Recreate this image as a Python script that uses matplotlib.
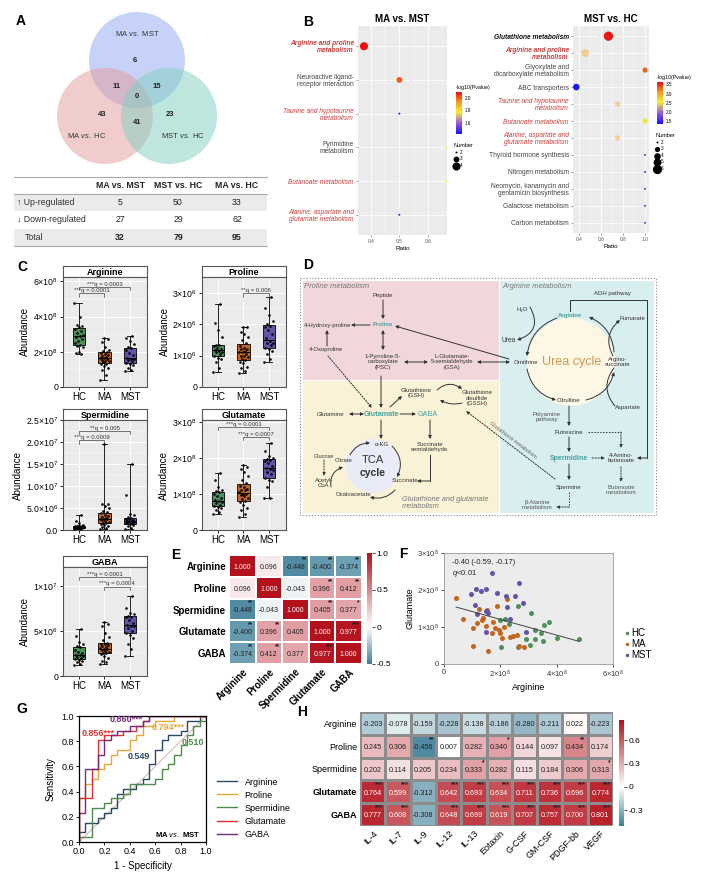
import numpy as np
import matplotlib
matplotlib.use("Agg")
import matplotlib.pyplot as plt
from matplotlib.colors import LinearSegmentedColormap, Normalize
from matplotlib.cm import ScalarMappable
from matplotlib.patches import Circle, FancyArrowPatch, Rectangle
from matplotlib.lines import Line2D
from matplotlib.ticker import AutoMinorLocator

plt.rcParams.update({
    "font.family": ["Liberation Sans", "DejaVu Sans"],
    "mathtext.fontset": "custom",
    "mathtext.rm": "Liberation Sans",
    "mathtext.it": "Liberation Sans:italic",
    "mathtext.bf": "Liberation Sans:bold",
    "axes.linewidth": 0.6,
    "xtick.major.width": 0.6, "ytick.major.width": 0.6,
    "xtick.major.size": 2, "ytick.major.size": 2,
    "xtick.major.pad": 1.5, "ytick.major.pad": 1.5,
})

W, H = 702, 885

# ---------------- data ----------------
# A: venn + table
venn_names = ["MA vs. MST", "MA vs. HC", "MST vs. HC"]
venn_counts = [6, 11, 15, 0, 43, 41, 23]
tbl_cols = ["MA vs. MST", "MST vs. HC", "MA vs. HC"]
tbl_rows = ["↑ Up-regulated", "↓ Down-regulated", "Total"]
tbl_up = [5, 50, 33]
tbl_down = [27, 29, 62]
tbl_total = [32, 79, 95]

# B: KEGG enrichment
b1_paths = ["Arginine and proline\nmetabolism", "Neuroactive ligand-\nreceptor interaction",
            "Taurine and hypotaurine\nmetabolism", "Pyrimidine\nmetabolism",
            "Butanoate metabolism", "Alanine, aspartate and\nglutamate metabolism"]
b1_ratio = [0.375, 0.5, 0.5, 0.667, 0.667, 0.5]
b1_logp = [2.09, 2.0, 1.43, 1.78, 1.8, 1.43]
b1_number = [4, 3, 2, 2, 2, 2]

b2_paths = ["Glutathione metabolism", "Arginine and proline\nmetabolism",
            "Glyoxylate and\ndicarboxylate metabolism", "ABC transporters",
            "Taurine and hypotaurine\nmetabolism", "Butanoate metabolism",
            "Alanine, aspartate and\nglutamate metabolism", "Thyroid hormone synthesis",
            "Nitrogen metabolism", "Neomycin, kanamycin and\ngentamicin biosynthesis",
            "Galactose metabolism", "Carbon metabolism"]
b2_ratio = [0.667, 0.455, 1.0, 0.375, 0.75, 1.0, 0.75, 1.0, 1.0, 1.0, 1.0, 1.0]
b2_logp = [3.6, 3.0, 3.3, 1.36, 3.0, 2.5, 3.0, 1.6, 1.6, 1.6, 1.6, 1.6]
b2_number = [6, 5, 3, 4, 3, 3, 3, 2, 2, 2, 2, 2]

# C: abundances (Arginine/Glutamate x1e8, others x1e6)
arg_hc = [4.75, 3.95, 3.5, 3.45, 3.4, 3.3, 3.2, 3.05, 2.95, 2.9, 2.85, 2.75, 2.6, 2.5, 2.4, 2.35, 2.25, 2.0, 1.95, 1.9]
arg_ma = [0.4, 0.7, 0.95, 1.1, 1.2, 1.3, 1.32, 1.4, 1.45, 1.5, 1.55, 1.6, 1.65, 1.65, 1.7, 1.75, 1.8, 1.85, 1.95, 2.0, 2.05, 2.1, 2.3, 2.55, 2.7, 2.8]
arg_mst = [0.9, 0.95, 1.1, 1.25, 1.3, 1.35, 1.45, 1.55, 1.6, 1.6, 1.65, 1.8, 1.95, 2.1, 2.2, 2.3, 2.45, 2.6, 2.8, 2.9]
pro_hc = [0.48, 0.6, 0.8, 0.9, 0.92, 1.0, 1.05, 1.1, 1.12, 1.15, 1.18, 1.2, 1.25, 1.3, 1.35, 1.35, 1.6, 1.8, 2.05, 2.65]
pro_ma = [0.45, 0.5, 0.6, 0.65, 0.75, 0.8, 0.85, 0.9, 0.95, 1.0, 1.0, 1.05, 1.1, 1.1, 1.15, 1.2, 1.2, 1.25, 1.3, 1.4, 1.5, 1.6, 1.7, 1.75, 1.9, 1.92]
pro_mst = [0.8, 0.9, 1.05, 1.15, 1.2, 1.25, 1.35, 1.4, 1.4, 1.45, 1.55, 1.7, 1.8, 1.9, 1.95, 2.0, 2.1, 2.3, 2.5, 2.85]
spd_hc = [0.2, 0.3, 0.4, 0.5, 0.5, 0.55, 0.6, 0.65, 0.7, 0.7, 0.75, 0.8, 0.85, 0.9, 0.9, 1.0, 1.1, 1.5, 2.0, 3.3]
spd_ma = [0.2, 0.4, 0.6, 0.9, 1.2, 1.4, 1.5, 1.7, 1.9, 2.1, 2.3, 2.4, 2.5, 2.6, 2.8, 3.0, 3.2, 3.5, 3.8, 4.0, 4.3, 5.0, 5.5, 5.8, 6.0, 19.5]
spd_mst = [0.2, 0.5, 0.8, 1.2, 1.4, 1.5, 1.7, 1.8, 1.9, 2.0, 2.0, 2.2, 2.4, 2.6, 2.8, 2.9, 3.5, 3.7, 8.0, 15.0]
glu_hc = [0.45, 0.5, 0.55, 0.62, 0.65, 0.67, 0.7, 0.75, 0.78, 0.8, 0.82, 0.9, 0.95, 1.0, 1.05, 1.08, 1.1, 1.2, 1.4, 1.58]
glu_ma = [0.37, 0.45, 0.55, 0.6, 0.7, 0.78, 0.8, 0.85, 0.9, 0.95, 0.97, 1.0, 1.0, 1.05, 1.1, 1.12, 1.15, 1.2, 1.22, 1.3, 1.4, 1.5, 1.6, 1.7, 1.75, 1.8]
glu_mst = [0.88, 0.9, 1.2, 1.35, 1.4, 1.45, 1.55, 1.6, 1.65, 1.7, 1.72, 1.78, 1.85, 1.9, 1.95, 1.97, 2.0, 2.05, 2.2, 2.42]
gaba_hc = [1.2, 1.3, 1.5, 1.7, 1.8, 1.9, 2.0, 2.1, 2.2, 2.3, 2.3, 2.5, 2.7, 2.9, 3.2, 3.3, 3.5, 3.8, 4.4, 5.2]
gaba_ma = [1.3, 1.5, 1.7, 2.0, 2.2, 2.4, 2.5, 2.6, 2.7, 2.8, 2.9, 3.0, 3.0, 3.1, 3.2, 3.3, 3.4, 3.5, 3.6, 3.7, 4.0, 4.3, 4.8, 5.5, 5.8, 6.0]
gaba_mst = [2.2, 3.0, 3.5, 4.2, 4.6, 4.8, 5.0, 5.3, 5.5, 5.6, 5.7, 5.9, 6.2, 6.5, 6.6, 6.7, 6.9, 7.0, 7.5, 8.9]

# E: correlation between metabolites
e_names = ["Arginine", "Proline", "Spermidine", "Glutamate", "GABA"]
e_corr = [[1.000, 0.096, -0.448, -0.400, -0.374],
          [0.096, 1.000, -0.043, 0.396, 0.412],
          [-0.448, -0.043, 1.000, 0.405, 0.377],
          [-0.400, 0.396, 0.405, 1.000, 0.977],
          [-0.374, 0.412, 0.377, 0.977, 1.000]]
e_sig = [["", "", "**", "**", "**"],
         ["", "", "", "**", "**"],
         ["**", "", "", "**", "*"],
         ["**", "**", "", "", "***"],
         ["**", "**", "", "***", ""]]

# F: arginine vs glutamate (x1e8)
f_hc_arg = [1.99, 2.02, 2.17, 2.32, 2.64, 2.64, 3.08, 2.91, 3.05, 3.24, 3.24, 3.44, 3.53, 3.55, 3.74, 4.00, 4.78]
f_hc_glu = [1.19, 0.45, 1.21, 1.08, 1.57, 0.47, 1.37, 0.67, 0.51, 0.92, 0.67, 0.85, 0.63, 1.05, 1.14, 0.69, 0.67]
f_ma_arg = [0.43, 0.69, 1.04, 1.04, 1.16, 1.25, 1.34, 1.39, 1.48, 1.55, 1.52, 1.75, 1.81, 1.87, 1.94, 1.99, 2.06, 2.13, 2.22, 2.36, 2.46, 2.60, 1.69, 2.67, 2.84]
f_ma_glu = [1.79, 1.21, 0.96, 0.49, 1.12, 1.48, 1.19, 1.24, 1.03, 0.36, 1.46, 1.14, 0.96, 1.57, 0.92, 0.83, 0.69, 1.01, 1.75, 0.74, 0.76, 0.78, 0.85, 0.49, 0.47]
f_mst_arg = [0.96, 1.14, 1.30, 1.10, 1.16, 1.49, 1.48, 1.55, 1.72, 1.48, 1.87, 2.20, 2.25, 2.34, 2.52, 2.67, 2.82, 2.91]
f_mst_glu = [1.89, 2.02, 1.98, 1.59, 1.35, 2.04, 1.44, 1.39, 2.45, 0.87, 1.93, 1.84, 1.53, 1.21, 1.84, 2.18, 1.66, 0.87]

# G: ROC curves (step points)
roc_names = ["Arginine", "Proline", "Spermidine", "Glutamate", "GABA"]
roc_fpr = [[0, 0, 0.05, 0.15, 0.2, 0.25, 0.3, 0.35, 0.45, 0.5, 0.55, 0.6, 0.65, 0.7, 0.8, 0.85, 0.95, 1],
           [0, 0, 0.05, 0.1, 0.15, 0.2, 0.25, 0.3, 0.4, 0.45, 0.5, 0.6, 0.75, 1],
           [0, 0, 0.1, 0.2, 0.25, 0.35, 0.4, 0.6, 0.65, 0.7, 0.75, 0.8, 0.85, 0.9, 0.95, 1, 1],
           [0, 0, 0.1, 0.15, 0.2, 0.35, 0.45, 0.5, 0.55, 1],
           [0, 0, 0.05, 0.15, 0.2, 0.25, 0.3, 0.4, 0.5, 0.55, 1]]
roc_tpr = [[0, 0.08, 0.15, 0.19, 0.23, 0.27, 0.38, 0.42, 0.46, 0.5, 0.62, 0.73, 0.81, 0.85, 0.88, 0.96, 1, 1],
           [0, 0.35, 0.46, 0.5, 0.58, 0.62, 0.69, 0.73, 0.81, 0.85, 0.92, 0.96, 1, 1],
           [0, 0.04, 0.27, 0.31, 0.35, 0.38, 0.46, 0.5, 0.58, 0.62, 0.69, 0.77, 0.85, 0.92, 0.96, 0.96, 1],
           [0, 0.35, 0.58, 0.81, 0.85, 0.88, 0.92, 0.96, 1, 1],
           [0, 0.23, 0.58, 0.69, 0.81, 0.85, 0.88, 0.92, 0.96, 1, 1]]
roc_auc = ["0.549", "0.794***", "0.510", "0.856***", "0.860***"]

# H: metabolites vs cytokines
h_rows = ["Arginine", "Proline", "Spermidine", "Glutamate", "GABA"]
h_cols = ["IL-4", "IL-7", "IL-9", "IL-12", "IL-13", "Eotaxin", "G-CSF", "GM-CSF", "PDGF-bb", "VEGF"]
h_corr = [[-0.203, -0.078, -0.159, -0.228, -0.138, -0.186, -0.280, -0.211, 0.022, -0.223],
          [0.245, 0.306, -0.456, 0.007, 0.282, 0.340, 0.144, 0.097, 0.434, 0.174],
          [0.202, 0.114, 0.205, 0.234, 0.333, 0.282, 0.115, 0.184, 0.306, 0.313],
          [0.764, 0.599, -0.312, 0.642, 0.693, 0.634, 0.711, 0.736, 0.696, 0.774],
          [0.777, 0.608, -0.308, 0.648, 0.699, 0.619, 0.707, 0.757, 0.700, 0.801]]
h_sig = [[""] * 10,
         ["", "", "**", "", "", "*", "", "", "**", ""],
         ["", "", "", "", "*", "", "", "", "", "*"],
         ["***", "***", "", "***", "***", "***", "***", "***", "***", "***"],
         ["***", "***", "", "***", "***", "***", "***", "***", "***", "***"]]

# ---------------- helpers ----------------
fig = plt.figure(figsize=(W / 100, H / 100), dpi=100)


def px_axes(x0, y0, x1, y1):
    return fig.add_axes([x0 / W, 1 - y1 / H, (x1 - x0) / W, (y1 - y0) / H])


ov = px_axes(0, 0, W, H)
ov.set_xlim(0, W)
ov.set_ylim(H, 0)
ov.axis("off")

DARK = "#333333"
TEAL = "#49a39c"
RED_T = "#c8413c"


def t(x, y, s, **kw):
    kw.setdefault("fontsize", 4.3)
    kw.setdefault("ha", "center")
    kw.setdefault("va", "center")
    kw.setdefault("color", DARK)
    ov.text(x, y, s, **kw)


def arrow(p0, p1, both=False, ls="-", rad=0.0, head=True):
    style = "<|-|>" if both else ("-|>" if head else "-")
    ov.add_patch(FancyArrowPatch(p0, p1, arrowstyle=style, mutation_scale=4.5, lw=0.7,
                                 color=DARK, linestyle=ls, shrinkA=0, shrinkB=0,
                                 connectionstyle=f"arc3,rad={rad}"))


def line(xs, ys, ls="-"):
    ov.plot(xs, ys, color=DARK, lw=0.7, ls=ls)


for lab, (x, y) in zip("ABCDEFGH", [(21, 21), (308, 22), (22, 267), (308, 265),
                                    (176, 555), (403, 554), (22, 709), (302, 712)]):
    ov.text(x, y, lab, fontsize=10, fontweight="bold", ha="center", va="center")

# ---------------- A: venn ----------------
for (cx, cy), col in zip([(137, 60), (105, 116), (169, 116)], ["#8ea6f0", "#e49a9a", "#7fcfc0"]):
    ov.add_patch(Circle((cx, cy), 48, facecolor=col, alpha=0.5, edgecolor="none"))
for name, (x, y) in zip(venn_names, [(137, 34), (87, 136), (183, 136)]):
    a, b = name.split(" vs. ")
    t(x, y, f"{a} $\\mathit{{vs.}}$ {b}", fontsize=5.5, color="#333")
for n, (x, y) in zip(venn_counts, [(135, 60), (117, 86), (157, 86), (137, 97), (102, 115), (137, 123), (170, 115)]):
    t(x, y, str(n), fontsize=5.5, fontweight="bold", color="#222")

# table
ov.add_patch(Rectangle((14, 194), 253, 17, facecolor="#ebebeb", edgecolor="none"))
ov.add_patch(Rectangle((14, 229), 253, 17, facecolor="#ebebeb", edgecolor="none"))
for y in (177, 194, 246):
    ov.plot([14, 267], [y, y], color="#aaaaaa", lw=0.8)
col_x = [120, 178, 237]
for x, c in zip(col_x, tbl_cols):
    t(x, 185, c, fontsize=6.3, fontweight="bold", color="#222")
for y, rname, vals in zip([202.5, 219.5, 237.5], tbl_rows, [tbl_up, tbl_down, tbl_total]):
    bold = rname == "Total"
    t(17 if not bold else 25, y, rname, fontsize=6.3, ha="left", color="#333")
    for x, v in zip(col_x, vals):
        t(x, y, str(v), fontsize=6.3, fontweight="bold" if bold else "normal", color="#222")

# ---------------- B: enrichment dot plots ----------------
b_cmap = LinearSegmentedColormap.from_list(
    "kegg", [(0, "#1414ff"), (0.28, "#a060d0"), (0.52, "#f6f02a"), (0.76, "#f59a20"), (1, "#e61010")])
red_labels = {"Arginine and proline\nmetabolism", "Taurine and hypotaurine\nmetabolism",
              "Butanoate metabolism", "Alanine, aspartate and\nglutamate metabolism"}
bold_labels = {"Arginine and proline\nmetabolism", "Glutathione metabolism"}


def dotplot(box, paths, ratio, logp, number, xlim, xticks, minor, vlim, cbox, cticks,
            lbox, sizes, title, faded=()):
    ax = px_axes(*box)
    ax.set_facecolor("#ebebeb")
    n = len(paths)
    ypos = np.arange(n)
    norm = Normalize(*vlim)
    s = [sizes[k] for k in number]
    alphas = [0.45 if i in faded else 1.0 for i in range(n)]
    sc = ax.scatter(ratio, ypos, s=s, c=logp, cmap=b_cmap, norm=norm, alpha=alphas, lw=0, zorder=3)
    ax.set_xlim(*xlim)
    ax.set_ylim(n - 1 + 0.6, -0.6)
    ax.set_xticks(xticks)
    ax.set_xticks(minor, minor=True)
    ax.set_yticks(ypos)
    ax.set_yticklabels(paths, fontsize=4.8, linespacing=1.0)
    for lbl, p in zip(ax.get_yticklabels(), paths):
        lbl.set_color(RED_T if p in red_labels else "#444444")
        if p in red_labels or p == "Glutathione metabolism":
            lbl.set_style("italic")
        if p in bold_labels:
            lbl.set_fontweight("bold")
        if p == "Glutathione metabolism":
            lbl.set_color("#111111")
    ax.tick_params(axis="x", labelsize=3.5, length=1.5, colors="#555555", width=0.4)
    ax.tick_params(axis="y", length=1.5, width=0.4, colors="#555555")
    ax.tick_params(axis="x", which="minor", length=0)
    for lbl, p in zip(ax.get_yticklabels(), paths):
        lbl.set_color(RED_T if p in red_labels else ("#111111" if p == "Glutathione metabolism" else "#444444"))
    ax.grid(which="major", color="white", lw=0.6)
    ax.grid(which="minor", axis="x", color="white", lw=0.3)
    ax.set_axisbelow(True)
    for sp in ax.spines.values():
        sp.set_visible(False)
    ax.set_xlabel("Ratio", fontsize=4.5, labelpad=1)
    ax.set_title(title, fontsize=7, fontweight="bold", pad=3)
    cax = px_axes(*cbox)
    cb = fig.colorbar(ScalarMappable(norm, b_cmap), cax=cax)
    cb.set_ticks(cticks)
    cb.ax.tick_params(labelsize=3.3, length=1, width=0.3, pad=1)
    cb.outline.set_visible(False)
    cax.set_title("-log10(Pvalue)", fontsize=3.8, pad=2, loc="left")
    hs = [plt.scatter([], [], s=sizes[k], c="black", lw=0) for k in sorted(sizes)]
    fig.legend(hs, [str(k) for k in sorted(sizes)], title="Number", loc="upper left",
               bbox_to_anchor=(lbox[0] / W, 1 - lbox[1] / H), frameon=False, fontsize=3.3,
               title_fontsize=4, alignment="left", handletextpad=0.2, labelspacing=0.35,
               borderpad=0, borderaxespad=0, handlelength=1)


dotplot((358, 26, 447, 235), b1_paths, b1_ratio, b1_logp, b1_number, (0.354, 0.668),
        [0.4, 0.5, 0.6], [0.45, 0.55, 0.65], (1.42, 2.09), (456, 92, 462, 134),
        [1.6, 1.8, 2.0], (454, 143), {2: 2, 3: 18, 4: 34}, "MA vs. MST")
dotplot((573, 26, 649, 233), b2_paths, b2_ratio, b2_logp, b2_number, (0.345, 1.036),
        [0.4, 0.6, 0.8, 1.0], [0.5, 0.7, 0.9], (1.34, 3.63), (657, 82, 663, 124),
        [1.5, 2.0, 2.5, 3.0, 3.5], (655, 133), {2: 2, 3: 14, 4: 22, 5: 32, 6: 44},
        "MST vs. HC", faded=(1, 4, 6))

# ---------------- C: boxplots ----------------
GCOL = ["#4f8f5e", "#c5661f", "#6553a8"]


def sci(m, e):
    return f"${m}{{\\times}}10^{{{e}}}$"


def boxpanel(box, name, groups, scale, ylim, ticks, ticklabels, comps):
    x0, y0, x1, y1 = box
    st = px_axes(x0, y0 - 11, x1, y0)
    st.set_xticks([]); st.set_yticks([])
    for sp in st.spines.values():
        sp.set_color("#555555"); sp.set_linewidth(0.8)
    st.text(0.5, 0.45, name, ha="center", va="center", fontsize=6.5, fontweight="bold",
            transform=st.transAxes)
    ax = px_axes(*box)
    vals = [np.asarray(g) * scale for g in groups]
    bp = ax.boxplot(vals, positions=[1, 2, 3], widths=0.5, whis=(0, 100), patch_artist=True,
                    showfliers=False, capwidths=0.22,
                    medianprops=dict(color="black", lw=0.7), whiskerprops=dict(lw=0.6),
                    capprops=dict(lw=0.6), boxprops=dict(lw=0.6))
    for patch, c in zip(bp["boxes"], GCOL):
        patch.set_facecolor(c)
    for k, v in enumerate(vals):
        jit = ((np.arange(len(v)) * 0.618) % 1 - 0.5) * 0.36
        ax.scatter(k + 1 + jit, v, s=3.5, c="black", zorder=3, lw=0)
    ax.set_facecolor("#ebebeb")
    ax.set_xlim(0.37, 3.67)
    ax.set_ylim(*ylim)
    ax.set_yticks(ticks)
    ax.set_yticklabels(ticklabels)
    ax.yaxis.set_minor_locator(AutoMinorLocator(2))
    ax.set_xticks([1, 2, 3])
    ax.set_xticklabels(["HC", "MA", "MST"])
    ax.tick_params(labelsize=7, length=2)
    ax.tick_params(axis="y", labelsize=6.3)
    ax.tick_params(which="minor", length=0)
    ax.grid(which="major", color="white", lw=0.7)
    ax.grid(which="minor", axis="y", color="white", lw=0.35)
    ax.set_axisbelow(True)
    for sp in ax.spines.values():
        sp.set_color("#555555"); sp.set_linewidth(0.8)
    ax.set_ylabel("Abundance", fontsize=7, labelpad=2)
    rng = ylim[1] - ylim[0]
    for i, j, y, lab in comps:
        yy = y * scale
        ax.plot([i, i, j, j], [yy - 0.03 * rng, yy, yy, yy - 0.03 * rng], color="#444444", lw=0.5)
        ax.text((i + j) / 2, yy + 0.003 * rng, lab, ha="center", va="bottom", fontsize=4.3, color="#333")


boxpanel((63, 277, 147, 387), "Arginine", [arg_hc, arg_ma, arg_mst], 1e8, (0, 6.25e8),
         [0, 2e8, 4e8, 6e8], ["0", sci(2, 8), sci(4, 8), sci(6, 8)],
         [(1, 3, 5.68, "***q = 0.0003"), (1, 2, 5.32, "***q = 0.0001")])
boxpanel((202, 277, 286, 387), "Proline", [pro_hc, pro_ma, pro_mst], 1e6, (0, 3.5e6),
         [0, 1e6, 2e6, 3e6], ["0", sci(1, 6), sci(2, 6), sci(3, 6)],
         [(2, 3, 2.98, "**q = 0.006")])
boxpanel((63, 420, 147, 530), "Spermidine", [spd_hc, spd_ma, spd_mst], 1e6, (0, 2.5e7),
         [0, 5e6, 1e7, 1.5e7, 2e7, 2.5e7],
         ["0.0", sci("5.0", 6), sci("1.0", 7), sci("1.5", 7), sci("2.0", 7), sci("2.5", 7)],
         [(1, 3, 22.5, "**q = 0.005"), (1, 2, 20.4, "***q = 0.0009")])
boxpanel((202, 420, 286, 530), "Glutamate", [glu_hc, glu_ma, glu_mst], 1e8, (0, 3.05e8),
         [0, 1e8, 2e8, 3e8], ["0", sci(1, 8), sci(2, 8), sci(3, 8)],
         [(1, 3, 2.86, "***q = 0.0001"), (2, 3, 2.58, "***q = 0.0007")])
boxpanel((63, 567, 147, 676), "GABA", [gaba_hc, gaba_ma, gaba_mst], 1e6, (0, 1.21e7),
         [0, 5e6, 1e7], ["0", sci(5, 6), sci(1, 7)],
         [(1, 3, 11.0, "***q = 0.0001"), (2, 3, 9.9, "***q = 0.0004")])

# ---------------- D: pathway diagram ----------------
ov.add_patch(Rectangle((303, 281), 196, 99, facecolor="#f2d7da", edgecolor="none"))
ov.add_patch(Rectangle((303, 381), 196, 132, facecolor="#f9f2d6", edgecolor="none"))
ov.add_patch(Rectangle((500, 281), 154, 232, facecolor="#d9eeee", edgecolor="none"))
ov.add_patch(Rectangle((300, 278), 356, 237, facecolor="none", edgecolor="#888888", lw=0.8, ls=":"))
ov.add_patch(Circle((571, 362), 44, facecolor="#fdf7e6", edgecolor="none"))
ov.add_patch(Circle((373, 466), 27, facecolor="#e9ebf7", edgecolor="none"))

t(304, 287, "Proline metabolism", fontsize=5.5, style="italic", color="#777777", ha="left")
t(502, 287, "Arginine metabolism", fontsize=5.5, style="italic", color="#777777", ha="left")
t(402, 503, "Glutathione and glutamate\nmetabolism", fontsize=5.3, style="italic",
  color="#777777", ha="left", linespacing=1.0)
t(612, 294, "ADH pathway")
t(383, 295, "Peptide")
t(383, 325, "Proline", color=TEAL, fontweight="bold")
t(328, 325, "4-Hydroxy-proline")
t(326, 350, "4-Oxoproline")
t(383, 362, "1-Pyrroline-5-\ncarboxylate\n(PSC)", linespacing=1.05)
t(452, 362, "L-Glutamate-\n5-semialdehyde\n(GSA)", linespacing=1.05)
t(526, 362, "Ornithine")
t(522, 309, "H₂O")
t(509, 340, "Urea", fontsize=4.8)
t(570, 316, "Arginine", color=TEAL, fontweight="bold")
t(632, 319, "Fumarate")
t(618, 362, "Argino-\nsuccinate", linespacing=1.05)
t(572, 362, "Urea cycle", fontsize=9, color="#c99a4e")
t(569, 401, "Citrulline")
t(628, 407, "Aspartate")
t(547, 417, "Polyamine\npathway", color="#555555", linespacing=1.05)
t(569, 432, "Putrescine")
t(569, 458, "Spermidine", color=TEAL, fontsize=5, fontweight="bold")
t(621, 458, "4-Amino-\nbutanoate", linespacing=1.05)
t(569, 487, "Spermine")
t(621, 490, "Butanoate\nmetabolism", color="#555555", linespacing=1.05)
t(537, 505, "β-Alanine\nmetabolism", color="#555555", linespacing=1.05)
t(513, 440, "Glutathione metabolism", rotation=-37, color="#666666", fontsize=4)
t(416, 393, "Glutathione\n(GSH)", linespacing=1.05)
t(477, 398, "Glutathione\ndisulfide\n(GSSH)", linespacing=1.05)
t(331, 414, "Glutamine")
t(382, 414, "Glutamate", color=TEAL, fontsize=5.2, fontweight="bold")
t(428, 415, "GABA", color=TEAL, fontsize=5.2)
t(430, 447, "Succinate\nsemialdehyde", linespacing=1.05)
t(382, 444, "α-KG")
t(344, 461, "Citrate")
t(405, 481, "Succinate")
t(354, 495, "Oxaloacetate")
t(324, 456, "Glucose", fontsize=4)
t(324, 483, "Acetyl-\nCoA", linespacing=1.05)
t(373, 460, "TCA", fontsize=8)
t(373, 473, "cycle", fontsize=7.5, fontweight="bold")

arrow((383, 300), (383, 319))
arrow((370, 325), (351, 325))
arrow((327, 346), (327, 330))
arrow((509, 359), (395, 326))
arrow((383, 330), (383, 350), both=True)
arrow((404, 362), (428, 362), both=True)
arrow((477, 362), (510, 362), both=True)
arrow((381, 376), (381, 408))
arrow((390, 407), (402, 396))
arrow((349, 414), (364, 414), both=True)
arrow((400, 414), (416, 414))
arrow((381, 420), (381, 439))
arrow((430, 420), (430, 439))
line([430, 430], [455, 481])
arrow((430, 481), (417, 481))
arrow((569, 406), (569, 426))
arrow((569, 437), (569, 452))
arrow((569, 464), (569, 480))
# urea cycle arcs
arrow((557, 318), (527, 356), rad=0.3)
arrow((527, 369), (556, 400), rad=0.3)
arrow((586, 400), (614, 372), rad=0.3)
arrow((614, 352), (589, 317), rad=0.3)
arrow((530, 307), (517, 340), rad=-0.6)
arrow((613, 356), (620, 320), rad=-0.4)
arrow((614, 368), (615, 406), rad=0.4, head=False)
# ADH pathway
line([570, 570, 647, 647], [311, 300, 300, 458])
arrow((647, 458), (637, 458))
# TCA arcs
arrow((350, 455), (370, 443), rad=-0.3)
arrow((392, 446), (397, 477), rad=-0.35)
arrow((395, 490), (370, 497), rad=-0.3)
arrow((331, 487), (343, 467), rad=-0.4)
# glutathione
arrow((437, 390), (462, 389), rad=-0.4)
arrow((462, 403), (440, 400), rad=-0.2)
# dotted
arrow((328, 356), (372, 408), ls=(0, (1.5, 1.5)))
arrow((555, 479), (466, 411), ls=(0, (1.5, 1.5)))
line([588, 621], [432, 432], ls=(0, (1.5, 1.5)))
arrow((621, 432), (621, 448), ls=(0, (1.5, 1.5)))
arrow((592, 458), (605, 458), ls=(0, (1.5, 1.5)))
arrow((621, 467), (621, 482), ls=(0, (1.5, 1.5)))
line([569, 569], [492, 507], ls=(0, (1.5, 1.5)))
arrow((569, 507), (556, 507), ls=(0, (1.5, 1.5)))
arrow((324, 460), (324, 476), ls=(0, (1.5, 1.5)))

# ---------------- E / H: heatmaps ----------------
TEAL_B = "#3f7f99"
RED_B = "#b3111c"


def heat(box, M, names_r, names_c, vmin, vmax, sig, thr, edge, lw, fs, lab_fs, bold_rows, cbox, cticks, clabels):
    M = np.asarray(M)
    zero = -vmin / (vmax - vmin)
    cmap = LinearSegmentedColormap.from_list("div", [(0, TEAL_B), (zero, "#ffffff"), (1, RED_B)])
    norm = Normalize(vmin, vmax)
    ax = px_axes(*box)
    nr, nc = M.shape
    ax.pcolormesh(np.arange(nc + 1), np.arange(nr + 1), M, cmap=cmap, norm=norm,
                  edgecolors=edge, linewidth=lw)
    ax.set_xlim(0, nc)
    ax.set_ylim(nr, 0)
    for i in range(nr):
        for j in range(nc):
            v = M[i, j]
            ax.text(j + 0.5, i + 0.56, f"{v:.3f}", ha="center", va="center", fontsize=fs,
                    color="white" if v > thr else "#222222")
            if sig[i][j]:
                ax.text(j + 0.92, i + 0.05, sig[i][j], ha="right", va="top", fontsize=fs - 0.3,
                        color="#222222", fontweight="bold")
    ax.set_xticks(np.arange(nc) + 0.5)
    ax.set_yticks(np.arange(nr) + 0.5)
    ax.set_xticklabels(names_c, rotation=45, ha="right", rotation_mode="anchor", fontsize=lab_fs)
    ax.set_yticklabels(names_r, fontsize=lab_fs)
    ax.tick_params(length=0, pad=2)
    for lbl in ax.get_yticklabels():
        if lbl.get_text() in bold_rows:
            lbl.set_fontweight("bold")
    if names_r == names_c:
        for lbl in ax.get_xticklabels():
            lbl.set_fontweight("bold")
    for sp in ax.spines.values():
        sp.set_visible(False)
    cax = px_axes(*cbox)
    cb = fig.colorbar(ScalarMappable(norm, cmap), cax=cax)
    cb.set_ticks(cticks)
    cb.set_ticklabels(clabels)
    cb.ax.tick_params(labelsize=6, length=2, width=0.5, pad=1)
    cb.outline.set_visible(False)
    return ax


heat((229, 555, 362, 664), e_corr, e_names, e_names, -0.5, 1.0, e_sig, 0.9, "white", 1.2,
     5, 7, set(e_names), (367, 553, 372, 664), [-0.5, 0, 0.5, 1.0], ["-0.5", "0", "0.5", "1.0"])
heat((360, 712, 613, 826), h_corr, h_rows, h_cols, -0.5, 0.857, h_sig, 0.5, "#8c8c8c", 0.9,
     5.2, 6.5, {"Glutamate", "GABA"}, (619, 720, 624, 826), [-0.3, 0, 0.3, 0.6],
     ["-0.3", "0", "0.3", "0.6"])

# ---------------- F: scatter ----------------
axf = px_axes(444, 553, 613, 664)
axf.set_facecolor("#ececec")
for xs, ys, c, lab in [(f_hc_arg, f_hc_glu, GCOL[0], "HC"), (f_ma_arg, f_ma_glu, GCOL[1], "MA"),
                       (f_mst_arg, f_mst_glu, GCOL[2], "MST")]:
    axf.scatter(np.asarray(xs) * 1e8, np.asarray(ys) * 1e8, s=13, c=c, lw=0, label=lab, zorder=3)
all_x = np.concatenate([f_hc_arg, f_ma_arg, f_mst_arg]) * 1e8
all_y = np.concatenate([f_hc_glu, f_ma_glu, f_mst_glu]) * 1e8
k, b = np.polyfit(all_x, all_y, 1)
xx = np.array([all_x.min(), all_x.max()])
axf.plot(xx, k * xx + b, color="#444444", lw=0.7, zorder=4)
axf.set_xlim(0, 6e8)
axf.set_ylim(0, 3e8)
axf.set_xticks([0, 2e8, 4e8, 6e8])
axf.set_xticklabels(["0", sci(2, 8), sci(4, 8), sci(6, 8)])
axf.set_yticks([0, 1e8, 2e8, 3e8])
axf.set_yticklabels(["0", sci(1, 8), sci(2, 8), sci(3, 8)])
axf.tick_params(labelsize=5.5, length=2, colors="#333333")
for sp in axf.spines.values():
    sp.set_color("#999999")
axf.set_xlabel("Arginine", fontsize=6.5, labelpad=2)
axf.set_ylabel("Glutamate", fontsize=6.5, labelpad=2)
axf.text(0.05, 0.95, "-0.40 (-0.59, -0.17)\n$q$<0.01", transform=axf.transAxes, ha="left",
         va="top", fontsize=5.5, color="#222222", linespacing=1.3)
fig.legend(*axf.get_legend_handles_labels(), loc="upper left", bbox_to_anchor=(617 / W, 1 - 623 / H),
           frameon=False, fontsize=7, handletextpad=0.0, labelspacing=0.1, borderpad=0,
           handlelength=1, markerscale=0.7)

# ---------------- G: ROC ----------------
axg = px_axes(79, 716, 206, 842)
roc_cols = ["#2c4a63", "#e9a53a", "#4d8b4a", "#e03232", "#7a2a7a"]
axg.plot([0, 1], [0, 1], color="#d8b9b9", lw=0.8)
for fpr, tpr, c, nm in zip(roc_fpr, roc_tpr, roc_cols, roc_names):
    axg.step(fpr, tpr, where="post", color=c, lw=1.0, label=nm)
for txt, c, (x, y) in zip(roc_auc, roc_cols, [(0.47, 0.68), (0.7, 0.91), (0.9, 0.79),
                                               (0.15, 0.865), (0.37, 0.97)]):
    axg.text(x, y, txt, color=c, fontsize=6.5, fontweight="bold", ha="center", va="center")
axg.text(0.95, 0.06, "MA $\\mathit{vs.}$ MST", ha="right", va="center", fontsize=5.5, fontweight="bold")
axg.set_xlim(0, 1)
axg.set_ylim(0, 1)
axg.set_xticks(np.arange(0, 1.01, 0.2))
axg.set_yticks(np.arange(0, 1.01, 0.2))
axg.tick_params(labelsize=6.5, length=2)
for sp in axg.spines.values():
    sp.set_linewidth(0.9)
axg.set_xlabel("1 - Specificity", fontsize=7)
axg.set_ylabel("Sensitivity", fontsize=7)
fig.legend(*axg.get_legend_handles_labels(), loc="upper left", bbox_to_anchor=(212 / W, 1 - 773 / H),
           frameon=False, fontsize=6.5, handlelength=2.3, labelspacing=0.45, borderpad=0)

fig.savefig("out.png", dpi=100)
